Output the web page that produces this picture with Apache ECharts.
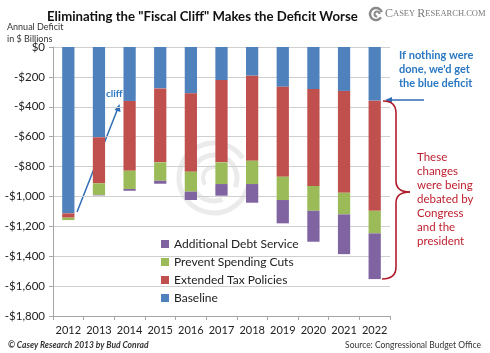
<!DOCTYPE html>
<html>
<head>
<meta charset="utf-8">
<script src="https://cdn.jsdelivr.net/npm/echarts@6/dist/echarts.min.js"></script>
<style>
  html, body { margin: 0; padding: 0; background: #fff; }
  #main { width: 490px; height: 353px; }
</style>
</head>
<body>
<div id="main"></div>
<script>
// years on the x axis
var years = ['2012', '2013', '2014', '2015', '2016', '2017', '2018', '2019', '2020', '2021', '2022'];
// $ billions
var baseline     = [-1113, -604, -361, -277, -310, -221, -192, -266, -281, -294, -359];
var taxPolicies  = [-29, -308, -467, -495, -524, -551, -569, -602, -649, -681, -737];
var spendingCuts = [-16, -78, -122, -123, -134, -145, -156, -156, -166, -145, -151];
var debtService  = [0, -3, -12, -20, -56, -78, -125, -156, -207, -266, -306];

var FONT = '"Liberation Sans Narrow", Lato, "Liberation Sans", sans-serif';
var blueTxt = '#2a78c2';
var redTxt = '#be1e2d';
var braceColor = '#b01c2c';

var myChart = echarts.init(document.getElementById('main'));

function bar(name, data, color) {
	return {
		name: name,
		type: 'bar',
		stack: 'deficit',
		barWidth: '40%',
		itemStyle: { color: color },
		data: data
	};
}

function braceSeg(s) {
	if (s.cpx1 != undefined) {
		return { type: 'bezierCurve', shape: s, style: { stroke: braceColor, lineWidth: 1.6, fill: null } };
	}
	return { type: 'line', shape: s, style: { stroke: braceColor, lineWidth: 1.6 } };
}

var option = {
	animation: false,
	backgroundColor: '#fff',
	textStyle: { fontFamily: FONT },
	title: {
		text: 'Eliminating the "Fiscal Cliff" Makes the Deficit Worse',
		left: 42,
		top: 5,
		textStyle: { fontFamily: 'Lato, sans-serif', fontSize: 13.2, fontWeight: 'bold', color: '#111' }
	},
	grid: { left: 53, right: 100, top: 47, bottom: 37 },
	legend: {
		orient: 'vertical',
		left: 156,
		top: 233,
		itemWidth: 8,
		itemHeight: 8,
		itemGap: 6,
		icon: 'rect',
		data: ['Additional Debt Service', 'Prevent Spending Cuts', 'Extended Tax Policies', 'Baseline'],
		textStyle: { fontFamily: 'Lato, sans-serif', fontSize: 12, color: '#222' }
	},
	xAxis: {
		type: 'category',
		data: years,
		position: 'bottom',
		axisLine: { onZero: false, lineStyle: { color: '#a6a6a6' } },
		axisTick: { show: true, length: 4, lineStyle: { color: '#a6a6a6' } },
		axisLabel: { interval: 0, fontSize: 11, color: '#222', margin: 9 }
	},
	yAxis: {
		type: 'value',
		min: -1800,
		max: 0,
		interval: 200,
		axisLine: { show: true, lineStyle: { color: '#a6a6a6' } },
		axisTick: { show: true, length: 4, lineStyle: { color: '#a6a6a6' } },
		splitLine: { lineStyle: { color: '#cfcfcf' } },
		axisLabel: {
			fontSize: 11.5,
			color: '#222',
			margin: 8,
			formatter: function (v) {
				if (v === 0) return '$0';
				return '-$' + Math.abs(v).toLocaleString('en-US');
			}
		}
	},
	series: [
		bar('Baseline', baseline, '#4f81bd'),
		bar('Extended Tax Policies', taxPolicies, '#c0504d'),
		bar('Prevent Spending Cuts', spendingCuts, '#9bbb59'),
		bar('Additional Debt Service', debtService, '#8064a2')
	],
	graphic: [
		// faint logo watermark behind the bars
		{ type: 'arc', z: -1, shape: { cx: 214, cy: 178, r: 35, startAngle: 0.3, endAngle: 2 * Math.PI - 0.6 }, style: { stroke: '#ebebeb', lineWidth: 5, fill: null } },
		{ type: 'arc', z: -1, shape: { cx: 214, cy: 178, r: 23, startAngle: 1.2, endAngle: 2 * Math.PI + 0.4 }, style: { stroke: '#ebebeb', lineWidth: 5, fill: null } },
		{ type: 'arc', z: -1, shape: { cx: 214, cy: 178, r: 11, startAngle: 2.5, endAngle: 2 * Math.PI + 1.5 }, style: { stroke: '#ebebeb', lineWidth: 4, fill: null } },
		// casey research logo
		{ type: 'arc', shape: { cx: 376, cy: 14, r: 6, startAngle: 0.6, endAngle: 2 * Math.PI - 0.3 }, style: { stroke: '#8a8a8a', lineWidth: 2.5, fill: null } },
		{ type: 'arc', shape: { cx: 377, cy: 14, r: 2.5, startAngle: 1.5, endAngle: 2 * Math.PI }, style: { stroke: '#8a8a8a', lineWidth: 2, fill: null } },
		{
			type: 'text', left: 385, top: 8,
			style: {
				text: '{a|C}{b|ASEY }{a|R}{b|ESEARCH.COM}',
				rich: {
					a: { fontFamily: '"Liberation Serif", serif', fontSize: 12, fill: '#7a7a7a' },
					b: { fontFamily: '"Liberation Serif", serif', fontSize: 8.5, fill: '#7a7a7a' }
				}
			}
		},
		{
			type: 'text', left: 7, top: 21,
			style: { text: 'Annual Deficit\nin $ Billions', fontFamily: 'Lato, sans-serif', fontSize: 9, lineHeight: 12, fill: '#333' }
		},
		// cliff arrow
		{ type: 'line', shape: { x1: 77, y1: 212, x2: 118, y2: 108 }, style: { stroke: '#2f6db5', lineWidth: 1.5 } },
		{ type: 'polygon', shape: { points: [[119.5, 104], [114.5, 110], [120.5, 112]] }, style: { fill: '#2f6db5' } },
		{
			type: 'text', left: 106, top: 89,
			style: { text: 'cliff', fontFamily: 'Lato, sans-serif', fontSize: 10, fontWeight: 'bold', fill: blueTxt }
		},
		// blue note and arrow
		{
			type: 'text', left: 399, top: 48,
			style: { text: 'If nothing were\ndone, we\'d get\nthe blue deficit', fontFamily: 'Lato, sans-serif', fontSize: 11, fontWeight: 'bold', lineHeight: 14, fill: blueTxt }
		},
		{ type: 'line', shape: { x1: 424, y1: 100, x2: 390, y2: 100 }, style: { stroke: '#2f6db5', lineWidth: 1.5 } },
		{ type: 'polygon', shape: { points: [[385, 100], [392, 97], [392, 103]] }, style: { fill: '#2f6db5' } },
		// red brace
		braceSeg({ x1: 383, y1: 101, x2: 396, y2: 113, cpx1: 396, cpy1: 101 }),
		braceSeg({ x1: 396, y1: 113, x2: 396, y2: 181 }),
		braceSeg({ x1: 396, y1: 181, x2: 410, y2: 192, cpx1: 396, cpy1: 192 }),
		braceSeg({ x1: 410, y1: 192, x2: 396, y2: 203, cpx1: 396, cpy1: 192 }),
		braceSeg({ x1: 396, y1: 203, x2: 396, y2: 267 }),
		braceSeg({ x1: 396, y1: 267, x2: 382, y2: 279, cpx1: 396, cpy1: 279 }),
		{
			type: 'text', left: 417, top: 150,
			style: { text: 'These\nchanges\nwere being\ndebated by\nCongress\nand the\npresident', fontFamily: 'Lato, sans-serif', fontSize: 11.5, lineHeight: 14, fill: redTxt }
		},
		// footer
		{
			type: 'text', left: 8, top: 341,
			style: { text: '\u00a9 Casey Research 2013 by Bud Conrad', fontFamily: 'Lato, sans-serif', fontSize: 8.5, fontStyle: 'italic', fontWeight: 'bold', fill: '#333' }
		},
		{
			type: 'text', right: 9, top: 341,
			style: { text: 'Source: Congressional Budget Office', fontFamily: 'Lato, sans-serif', fontSize: 8.5, fill: '#333' }
		}
	]
};

myChart.setOption(option);
</script>
</body>
</html>
